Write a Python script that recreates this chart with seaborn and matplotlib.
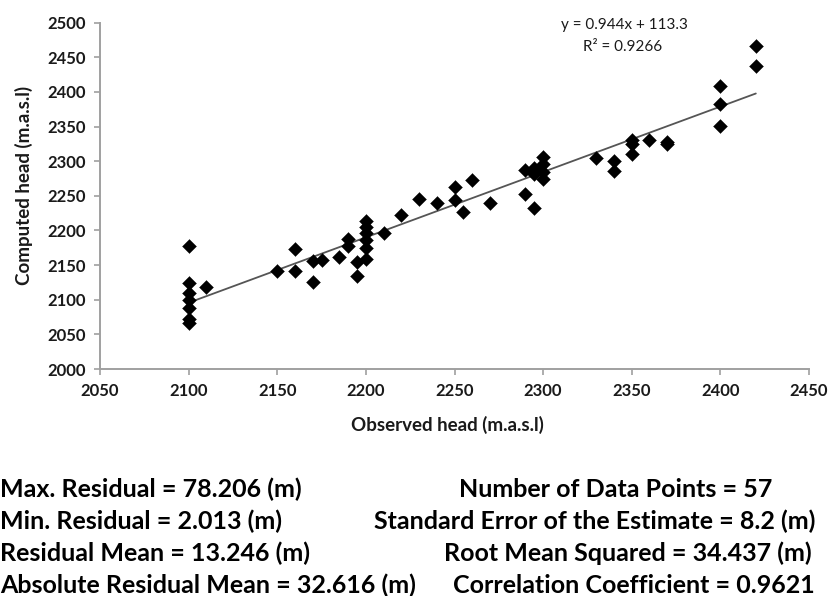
import matplotlib
matplotlib.use("Agg")
import matplotlib.pyplot as plt
import seaborn as sns
import numpy as np
import pandas as pd

observed = [2100, 2100, 2100, 2100, 2100, 2100, 2100,
            2110, 2150, 2160, 2160, 2170, 2170, 2175, 2185,
            2190, 2190, 2195, 2195,
            2200, 2200, 2200, 2200, 2200, 2200,
            2210, 2220, 2230, 2240, 2250, 2250, 2255, 2260, 2270,
            2290, 2290, 2295, 2295, 2295,
            2300, 2300, 2300, 2300,
            2330, 2340, 2340, 2350, 2350, 2350, 2360, 2370, 2370,
            2400, 2400, 2400, 2420, 2420]
computed = [2177, 2124, 2110, 2100, 2088, 2072, 2067,
            2119, 2142, 2173, 2142, 2156, 2125, 2158, 2161,
            2187, 2177, 2155, 2134,
            2213, 2205, 2196, 2186, 2174, 2159,
            2197, 2222, 2245, 2239, 2263, 2244, 2227, 2273, 2239,
            2288, 2252, 2233, 2290, 2281,
            2306, 2296, 2285, 2274,
            2304, 2300, 2286, 2331, 2325, 2311, 2331, 2328, 2325,
            2408, 2383, 2351, 2467, 2437]

slope = 0.944
intercept = 113.3
x_ticks = [2050, 2100, 2150, 2200, 2250, 2300, 2350, 2400, 2450]
y_ticks = [2000, 2050, 2100, 2150, 2200, 2250, 2300, 2350, 2400, 2450, 2500]

stats_left = ["Max. Residual = 78.206 (m)", "Min. Residual = 2.013 (m)",
              "Residual Mean = 13.246 (m)", "Absolute Residual Mean = 32.616 (m)"]
stats_right = ["Number of Data Points = 57", "Standard Error of the Estimate = 8.2 (m)",
               "Root Mean Squared = 34.437 (m)", "Correlation Coefficient = 0.9621"]

sns.set_theme(style="white")
plt.rcParams['font.family'] = ['Lato', 'DejaVu Sans']

df = pd.DataFrame({"obs": observed, "comp": computed})
xr = np.array([min(observed), max(observed)])
line_df = pd.DataFrame({"x": xr, "y": slope * xr + intercept})

W, H = 831, 596
fig = plt.figure(figsize=(W / 100, H / 100), dpi=100)
ax = fig.add_axes([100 / W, 1 - 369 / H, (809 - 100) / W, (369 - 22.7) / H])

sns.lineplot(data=line_df, x="x", y="y", ax=ax, color="#555555", linewidth=1.3)
sns.scatterplot(data=df, x="obs", y="comp", ax=ax, marker="D", s=50,
                color="black", edgecolor="black", linewidth=0.3, zorder=3)

ax.set_xlim(2050, 2450)
ax.set_ylim(2000, 2500)
ax.set_xticks(x_ticks)
ax.set_yticks(y_ticks)
ax.set_xticklabels([str(t) for t in x_ticks], fontweight="bold", fontsize=12)
ax.set_yticklabels([str(t) for t in y_ticks], fontweight="bold", fontsize=12)
ax.tick_params(axis="both", direction="out", length=4, width=1.2, color="#a0a0a0",
               labelcolor="#1a1a1a")
ax.tick_params(axis="x", pad=6)
ax.tick_params(axis="y", pad=6)
ax.tick_params(bottom=True, left=True)
for s in ["top", "right"]:
    ax.spines[s].set_visible(False)
for s in ["left", "bottom"]:
    ax.spines[s].set_color("#a0a0a0")
    ax.spines[s].set_linewidth(1.4)

ax.set_xlabel("Observed head (m.a.s.l)", fontweight="bold", fontsize=13.5,
              color="#1a1a1a")
ax.set_ylabel("Computed head (m.a.s.l)", fontweight="bold", fontsize=13.5,
              color="#1a1a1a")
ax.xaxis.set_label_coords(0.49, -0.135)
ax.yaxis.set_label_coords(-0.095, 0.53)

fig.text(624 / W, 1 - 25 / H, "y = 0.944x + 113.3", ha="center", va="center",
         fontsize=11, color="#1a1a1a")
fig.text(623 / W, 1 - 47 / H, "R² = 0.9266", ha="center", va="center",
         fontsize=11, color="#1a1a1a")

rows_y = [497, 529, 561, 593]
right_x = [772, 815, 812, 815]
for i in range(4):
    fig.text(0, 1 - rows_y[i] / H, stats_left[i], ha="left", va="baseline",
             fontsize=18, fontweight="bold", color="black")
    fig.text(right_x[i] / W, 1 - rows_y[i] / H, stats_right[i], ha="right",
             va="baseline", fontsize=18, fontweight="bold", color="black")

fig.savefig("out.png", dpi=100)
